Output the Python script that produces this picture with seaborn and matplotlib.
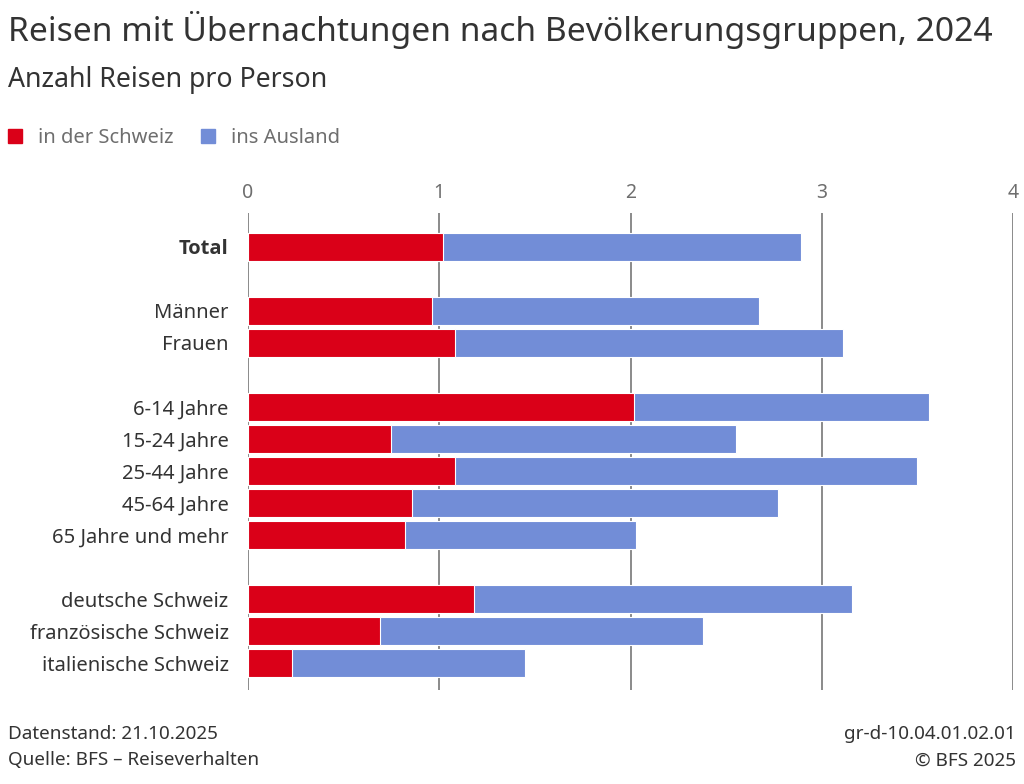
import numpy as np
import pandas as pd
import seaborn as sns
import matplotlib.pyplot as plt
from matplotlib.patches import Patch

# data (Anzahl Reisen pro Person)
groups = ["Total", "Männer", "Frauen", "6-14 Jahre", "15-24 Jahre", "25-44 Jahre",
          "45-64 Jahre", "65 Jahre und mehr", "deutsche Schweiz",
          "französische Schweiz", "italienische Schweiz"]
schweiz = [1.02, 0.96, 1.08, 2.02, 0.75, 1.08, 0.86, 0.82, 1.18, 0.69, 0.23]
ausland = [1.87, 1.71, 2.03, 1.54, 1.80, 2.42, 1.91, 1.21, 1.98, 1.69, 1.22]

# row order with empty spacer slots between the blocks
order = ["Total", " ", "Männer", "Frauen", "  ", "6-14 Jahre", "15-24 Jahre",
         "25-44 Jahre", "45-64 Jahre", "65 Jahre und mehr", "   ",
         "deutsche Schweiz", "französische Schweiz", "italienische Schweiz"]

df = pd.DataFrame({"gruppe": groups, "schweiz": schweiz, "ausland": ausland})
df["gesamt"] = df["schweiz"] + df["ausland"]

RED = "#da0018"
BLUE = "#728dd7"
GRID = "#8a8a8a"
TXT = "#333333"
GREY = "#6e6e6e"

sns.set_theme(style="white")
plt.rcParams["font.family"] = ["Noto Sans", "DejaVu Sans"]

fig = plt.figure(figsize=(10.24, 7.84), dpi=100)
ax = fig.add_axes([0.2422, 0.1199, 0.9893 - 0.2422, 0.7283 - 0.1199])

sns.barplot(data=df, y="gruppe", x="gesamt", order=order, color=BLUE, saturation=1,
            width=0.88, edgecolor="white", linewidth=0.8, ax=ax, zorder=3)
sns.barplot(data=df, y="gruppe", x="schweiz", order=order, color=RED, saturation=1,
            width=0.88, edgecolor="white", linewidth=0.8, ax=ax, zorder=4)

ax.set_xlim(0, 4)
ax.set_ylim(13.84, -1.06)
ax.set_xticks([0, 1, 2, 3, 4])
ax.set_yticks(range(len(order)))
ax.set_yticklabels(order)
ax.xaxis.tick_top()
ax.tick_params(axis="x", length=0, pad=7, labelsize=14, labelcolor=GREY)
ax.tick_params(axis="y", length=0, pad=14, labelsize=14.5, labelcolor=TXT)
ax.grid(axis="x", color=GRID, linewidth=1.4)
ax.grid(axis="y", visible=False)
ax.set_axisbelow(True)
for s in ax.spines.values():
    s.set_visible(False)
ax.set_xlabel("")
ax.set_ylabel("")

fig.canvas.draw()
for lab in ax.get_yticklabels():
    if lab.get_text() == "Total":
        lab.set_fontfamily(["Open Sans", "DejaVu Sans"])
        lab.set_fontweight("bold")

# titles
fig.text(0.008, 0.962, "Reisen mit Übernachtungen nach Bevölkerungsgruppen, 2024",
         fontsize=24.2, color=TXT, va="center")
fig.text(0.008, 0.898, "Anzahl Reisen pro Person", fontsize=19.2, color=TXT, va="center")

# legend
handles = [Patch(color=RED, label="in der Schweiz"), Patch(color=BLUE, label="ins Ausland")]
leg = fig.legend(handles=handles, loc="center left", bbox_to_anchor=(0.0, 0.824), ncol=2,
                 frameon=False, fontsize=14.5, handlelength=0.7, handleheight=0.7,
                 handletextpad=0.8, columnspacing=1.35, borderaxespad=0)
for t in leg.get_texts():
    t.set_color(GREY)

# footer
fig.text(0.008, 0.064, "Datenstand: 21.10.2025", fontsize=13.6, color=TXT, va="center")
fig.text(0.008, 0.030, "Quelle: BFS – Reiseverhalten", fontsize=13.6, color=TXT, va="center")
fig.text(0.992, 0.064, "gr-d-10.04.01.02.01", fontsize=13.6, color=TXT, va="center", ha="right")
fig.text(0.992, 0.030, "© BFS 2025", fontsize=13.6, color=TXT, va="center", ha="right")

fig.savefig("out.png", dpi=100)
